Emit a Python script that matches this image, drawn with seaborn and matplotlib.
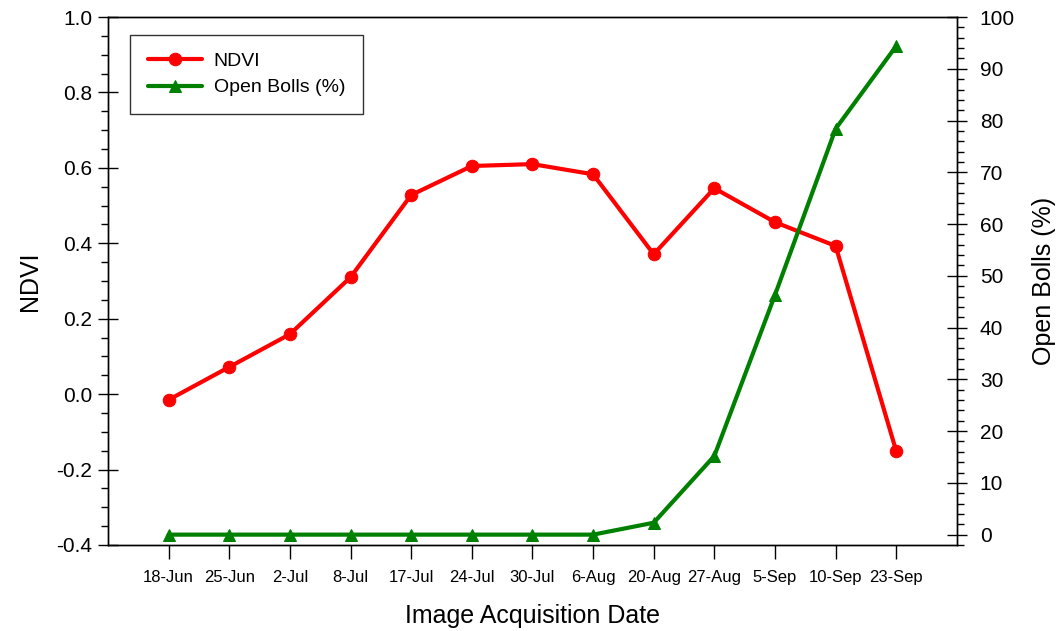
import matplotlib
matplotlib.use("Agg")
import matplotlib.pyplot as plt
import seaborn as sns
import pandas as pd
from matplotlib.ticker import MultipleLocator

dates = ["18-Jun", "25-Jun", "2-Jul", "8-Jul", "17-Jul", "24-Jul", "30-Jul",
         "6-Aug", "20-Aug", "27-Aug", "5-Sep", "10-Sep", "23-Sep"]
ndvi = [-0.015, 0.072, 0.159, 0.31, 0.528, 0.605, 0.61, 0.583, 0.371,
        0.546, 0.456, 0.393, -0.151]
open_bolls = [0, 0, 0, 0, 0, 0, 0, 0, 2.3, 15.2, 46.3, 78.4, 94.4]

sns.set_style("ticks")
plt.rcParams['font.family'] = ['Liberation Sans', 'DejaVu Sans']
plt.rcParams['text.color'] = 'black'
plt.rcParams['axes.labelcolor'] = 'black'
plt.rcParams['xtick.color'] = 'black'
plt.rcParams['ytick.color'] = 'black'

df = pd.DataFrame({"date": dates, "ndvi": ndvi, "bolls": open_bolls})

fig = plt.figure(figsize=(10.62, 6.31), dpi=100)
ax = fig.add_axes([0.1017, 0.1363, 0.7993, 0.8367])
ax2 = ax.twinx()

sns.lineplot(data=df, x="date", y="ndvi", ax=ax, sort=False, color="#ff0000",
             lw=3, marker="o", markersize=9, markeredgecolor="#ff0000",
             label="NDVI", legend=False)
sns.lineplot(data=df, x="date", y="bolls", ax=ax2, sort=False, color="#008000",
             lw=3, marker="^", markersize=9, markeredgecolor="#008000",
             label="Open Bolls (%)", legend=False)

ax.set_xlim(-1, 13)
ax.set_ylim(-0.4, 1.0)
ax2.set_ylim(-2, 100)

ax.yaxis.set_major_locator(MultipleLocator(0.2))
ax.yaxis.set_minor_locator(MultipleLocator(0.05))
ax.yaxis.set_major_formatter(matplotlib.ticker.FormatStrFormatter("%.1f"))
ax2.yaxis.set_major_locator(MultipleLocator(10))
ax2.yaxis.set_minor_locator(MultipleLocator(2))

for a in (ax, ax2):
    for s in a.spines.values():
        s.set_visible(True)
        s.set_linewidth(1.0)
        s.set_color("black")

ax.tick_params(axis="x", direction="out", length=10, width=1, labelsize=12, pad=8,
               colors="black")
ax.tick_params(axis="y", which="major", direction="inout", length=15, width=1,
               labelsize=15, pad=4, colors="black")
ax.tick_params(axis="y", which="minor", direction="out", length=5, width=1, colors="black")
ax2.tick_params(axis="y", which="major", direction="inout", length=15, width=1,
                labelsize=15, pad=9, colors="black")
ax2.tick_params(axis="y", which="minor", direction="out", length=5, width=1, colors="black")

ax.set_xlabel("Image Acquisition Date", fontsize=18, labelpad=14, color="black")
ax.set_ylabel("NDVI", fontsize=18, labelpad=10, color="black")
ax2.set_ylabel("Open Bolls (%)", fontsize=18, labelpad=12, color="black")

h1, l1 = ax.get_legend_handles_labels()
h2, l2 = ax2.get_legend_handles_labels()
leg = ax2.legend(h1 + h2, l1 + l2, loc="upper left", bbox_to_anchor=(0.026, 0.966),
                 borderaxespad=0, fontsize=14, frameon=True, fancybox=False,
                 edgecolor="black", handlelength=2.8, handletextpad=0.6,
                 borderpad=0.9, labelspacing=0.45)
leg.get_frame().set_linewidth(1.0)
for t in leg.get_texts():
    t.set_color("black")

fig.savefig("out.png", dpi=100)
